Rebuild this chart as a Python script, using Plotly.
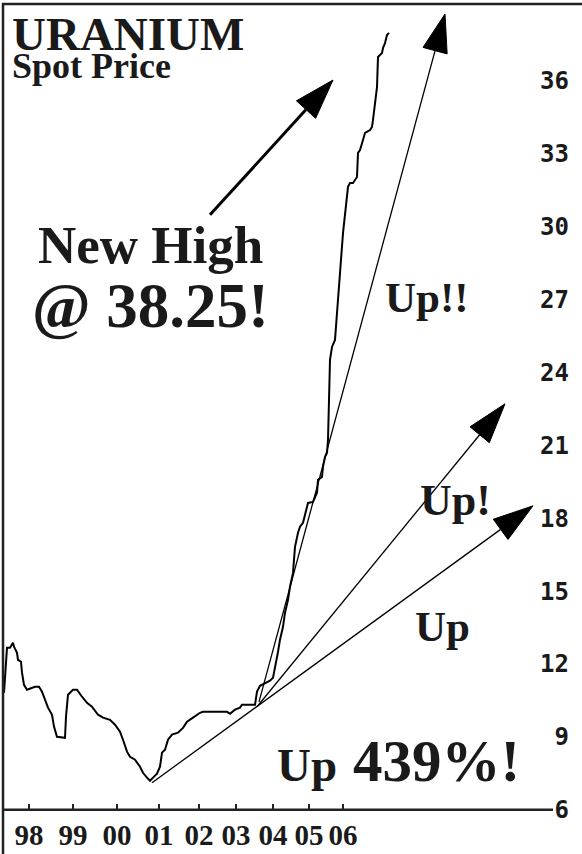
import math
import plotly.graph_objects as go

# ---------------- data ----------------
# chart time position (weekly-ish index along the x axis) and uranium spot price (USD/lb)
t_pos = [1, 3, 4, 7, 10, 11, 14, 15, 18, 19, 21, 24, 29, 32, 36, 39, 42, 45, 49, 51,
         54, 62, 63, 65, 70, 74, 79, 84, 89, 95, 100, 107, 112, 117, 120, 124, 127, 132, 137, 140,
         144, 147, 150, 154, 157, 159, 162, 165, 169, 175, 180, 184, 190, 197, 200, 224, 227, 232, 237, 239,
         252, 254, 257, 264, 267, 270, 272, 274, 275, 277, 280, 282, 285, 287, 290, 291, 292, 295, 297, 300,
         302, 305, 310, 314, 315, 319, 320, 322, 324, 325, 326, 327, 329, 332, 334, 340, 345, 347, 350, 354,
         355, 357, 360, 362, 367, 369, 370, 374, 375, 379, 380, 382, 384, 386]
price = [10.81, 11.97, 12.67, 12.67, 12.87, 12.71, 12.46, 12.17, 12.09, 11.64, 11.14, 10.94, 11.02, 11.06, 11.06, 10.86, 10.53, 10.20, 9.91, 9.42,
         9.00, 8.96, 9.83, 10.73, 10.94, 10.94, 10.65, 10.40, 10.24, 9.91, 9.79, 9.70, 9.50, 9.21, 8.88, 8.39, 8.18, 8.06, 7.77, 7.52,
         7.32, 7.19, 7.32, 7.48, 7.77, 8.35, 8.47, 8.88, 9.09, 9.17, 9.37, 9.62, 9.79, 9.99, 10.03, 10.03, 9.95, 10.12, 10.20, 10.32,
         10.32, 10.86, 11.10, 11.23, 11.31, 11.43, 11.84, 12.17, 12.50, 13.00, 13.53, 14.11, 14.64, 15.18, 15.75, 16.29, 16.82, 17.40, 17.65, 17.81,
         18.14, 18.63, 18.67, 19.05, 19.58, 19.70, 20.12, 20.53, 20.69, 21.23, 22.87, 24.52, 25.05, 25.34, 26.45, 29.74, 31.64, 31.80, 31.80, 32.05,
         33.04, 33.16, 33.57, 33.86, 33.98, 34.11, 34.40, 35.75, 36.99, 37.15, 37.36, 37.56, 37.89, 37.98]

year_labels = ["98", "99", "00", "01", "02", "03", "04", "05", "06"]
year_pos = [26, 70, 114, 156, 196, 233, 270, 306, 340]

price_ticks = [6, 9, 12, 15, 18, 21, 24, 27, 30, 33, 36]
price_tick_text = ["6", "9", "12", "15", "18", "21", "24", "27", "30", "33", "36"]
price_floor = 6

# arrows: tail (t, price) -> tip (t, price)
arrow_new_high = (207, 30.49, 330, 36.04)
arrow_up2 = (256, 10.44, 442, 38.76)   # "Up!!"
arrow_up1 = (254, 10.24, 502, 22.71)   # "Up!"
arrow_up0 = (149, 7.11, 530, 18.51)    # "Up"

# ---------------- layout geometry ----------------
W, H = 582, 854
KY_TARGET = 24.3               # pixels per price unit
Y_RANGE = [5.0, 39.17]
ML, MR, MT = 3, 10, 4
MB = int(round(H - MT - (Y_RANGE[1] - Y_RANGE[0]) * KY_TARGET))
X_RANGE = [0, 569]
PW = W - ML - MR
PH = H - MT - MB
KX = PW / (X_RANGE[1] - X_RANGE[0])
KY = PH / (Y_RANGE[1] - Y_RANGE[0])
AXIS_POS = (price_floor - Y_RANGE[0]) / (Y_RANGE[1] - Y_RANGE[0])

SERIF = "Liberation Serif, Times New Roman, serif"


def px(x):
    return (x - ML) / PW


def py(y):
    return (H - MB - y) / PH


fig = go.Figure()

fig.add_trace(go.Scatter(x=t_pos, y=price, mode="lines",
                         line=dict(color="black", width=2), hoverinfo="skip"))


def add_arrow(a, width, head_len, head_w):
    x0, y0, x1, y1 = a
    dx = (x1 - x0) * KX
    dy = (y1 - y0) * KY
    L = math.hypot(dx, dy)
    ux, uy = dx / L, dy / L
    nx, ny = -uy, ux
    bx = x1 - head_len * ux / KX
    by = y1 - head_len * uy / KY
    fig.add_trace(go.Scatter(x=[x0, bx], y=[y0, by], mode="lines",
                             line=dict(color="black", width=width), hoverinfo="skip"))
    cx1 = bx + head_w / 2 * nx / KX
    cy1 = by + head_w / 2 * ny / KY
    cx2 = bx - head_w / 2 * nx / KX
    cy2 = by - head_w / 2 * ny / KY
    fig.add_trace(go.Scatter(x=[x1, cx1, cx2, x1], y=[y1, cy1, cy2, y1], mode="lines",
                             fill="toself", fillcolor="black",
                             line=dict(color="black", width=1), hoverinfo="skip"))


add_arrow(arrow_up0, 1.3, 40, 25)
add_arrow(arrow_up1, 1.3, 40, 25)
add_arrow(arrow_up2, 1.3, 38, 25)
add_arrow(arrow_new_high, 3, 40, 26)


def text(s, x, y, size, xanchor="center"):
    fig.add_annotation(text="<b>%s</b>" % s, x=px(x), y=py(y), xref="paper", yref="paper",
                       xanchor=xanchor, yanchor="middle", showarrow=False,
                       font=dict(family=SERIF, size=size, color="#1a1a1a"))


text("URANIUM", 10, 34, 47, "left")
text("Spot Price", 10, 66, 36, "left")
text("New High", 150, 245, 53)
text("@ 38.25!", 150, 306, 63)
text("Up!!", 427, 297, 43)
text("Up!", 455, 500, 44)
text("Up", 442, 626, 43)
text("Up", 275, 765, 47, "left")
text("439%!", 351, 761, 59, "left")

# frame lines
fig.add_shape(type="line", xref="paper", yref="paper", x0=px(2), x1=px(582), y0=1, y1=1,
              line=dict(color="#222", width=2.5))
fig.add_shape(type="line", xref="paper", yref="paper", x0=0, x1=0, y0=py(3), y1=py(854),
              line=dict(color="#222", width=2.5))
fig.add_shape(type="line", xref="paper", yref="y", x0=0, x1=px(553), y0=price_floor, y1=price_floor,
              line=dict(color="#222", width=2.5))

fig.update_layout(
    width=W, height=H,
    margin=dict(l=ML, r=MR, t=MT, b=MB, pad=0),
    paper_bgcolor="white", plot_bgcolor="white",
    showlegend=False,
    xaxis=dict(range=X_RANGE, tickvals=year_pos, ticktext=year_labels,
               anchor="free", position=AXIS_POS,
               ticks="inside", ticklen=6, tickwidth=1.5, tickcolor="#222",
               ticklabelstandoff=5,
               showgrid=False, zeroline=False, showline=False, fixedrange=True,
               tickfont=dict(family=SERIF, size=29, color="#1a1a1a", weight="bold")),
    yaxis=dict(range=Y_RANGE, side="right", tickvals=price_ticks, ticktext=price_tick_text,
               ticklabelposition="inside", ticks="",
               showgrid=False, zeroline=False, showline=False, fixedrange=True,
               tickfont=dict(family="DejaVu Sans Mono", size=24, color="#1a1a1a", weight="bold")),
)

fig.write_html("out.html", config={"displayModeBar": False},
               post_script="document.body.style.margin='0px';document.body.style.padding='0px';")
